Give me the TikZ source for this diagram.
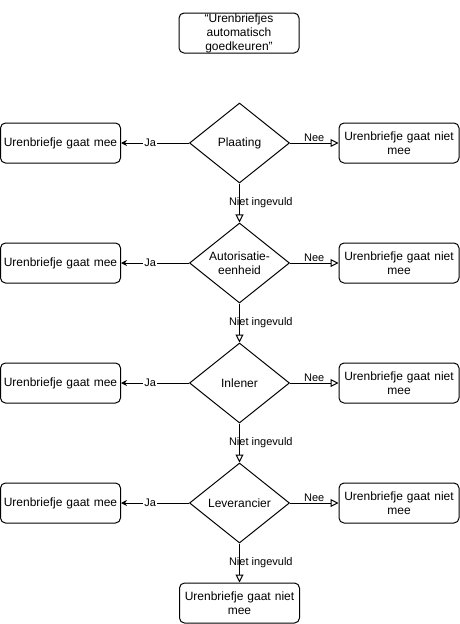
\documentclass[tikz,border=0pt]{standalone}
\usepackage{fontspec}
\setmainfont{Liberation Sans}
\usetikzlibrary{shapes.geometric}
\usetikzlibrary{arrows.meta}

\begin{document}
\begin{tikzpicture}[x=1pt,y=-1pt,line width=1pt]
\tikzset{outcome/.style={draw,rounded corners=5pt,minimum width=120pt,minimum height=40pt,text width=114pt,align=center,inner sep=0pt,font=\fontsize{12}{14}\selectfont}}
\tikzset{decision/.style={draw,diamond,aspect=1.25,minimum width=100pt,minimum height=80pt,inner sep=0pt,align=center,font=\fontsize{12}{14}\selectfont}}
\tikzset{jaarrow/.style={-{Stealth[length=6pt,width=6pt]}}}
\tikzset{neearrow/.style={-{Triangle[open,length=8pt,width=8pt]}}}
\tikzset{edgelabel/.style={font=\fontsize{11}{13}\selectfont,inner sep=1pt}}
\tikzset{nietlabel/.style={edgelabel,anchor=west,xshift=-12pt}}
\useasboundingbox (0,0) rectangle (460,624);

\node[outcome] (start) at (239,33) {“Urenbriefjes\\automatisch\\goedkeuren”};

% beslissingen
\node[decision] (plaating) at (239.5,143) {Plaating};
\node[decision] (autorisatie) at (239.5,263) {Autorisatie-\\eenheid};
\node[decision] (inlener) at (239.5,383) {Inlener};
\node[decision] (leverancier) at (239.5,503) {Leverancier};

% uitkomsten
\node[outcome] (ja1) at (60.5,143) {Urenbriefje gaat mee};
\node[outcome] (nee1) at (399,143) {Urenbriefje gaat niet\\mee};
\node[outcome] (ja2) at (60.5,263) {Urenbriefje gaat mee};
\node[outcome] (nee2) at (399,263) {Urenbriefje gaat niet\\mee};
\node[outcome] (ja3) at (60.5,383) {Urenbriefje gaat mee};
\node[outcome] (nee3) at (399,383) {Urenbriefje gaat niet\\mee};
\node[outcome] (ja4) at (60.5,503) {Urenbriefje gaat mee};
\node[outcome] (nee4) at (399,503) {Urenbriefje gaat niet\\mee};
\node[outcome] (einde) at (239.5,603) {Urenbriefje gaat niet\\mee};

\draw[jaarrow] (plaating) -- (ja1) node[pos=0.57,edgelabel,fill=white] {Ja};
\draw[neearrow] (plaating) -- (nee1) node[midway,edgelabel,above] {Nee};
\draw[neearrow] (plaating) -- (autorisatie) node[midway,nietlabel] {Niet ingevuld};

\draw[jaarrow] (autorisatie) -- (ja2) node[pos=0.57,edgelabel,fill=white] {Ja};
\draw[neearrow] (autorisatie) -- (nee2) node[midway,edgelabel,above] {Nee};
\draw[neearrow] (autorisatie) -- (inlener) node[midway,nietlabel] {Niet ingevuld};

\draw[jaarrow] (inlener) -- (ja3) node[pos=0.57,edgelabel,fill=white] {Ja};
\draw[neearrow] (inlener) -- (nee3) node[midway,edgelabel,above] {Nee};
\draw[neearrow] (inlener) -- (leverancier) node[midway,nietlabel] {Niet ingevuld};

\draw[jaarrow] (leverancier) -- (ja4) node[pos=0.57,edgelabel,fill=white] {Ja};
\draw[neearrow] (leverancier) -- (nee4) node[midway,edgelabel,above] {Nee};
\draw[neearrow] (leverancier) -- (einde) node[midway,nietlabel] {Niet ingevuld};
\end{tikzpicture}
\end{document}
